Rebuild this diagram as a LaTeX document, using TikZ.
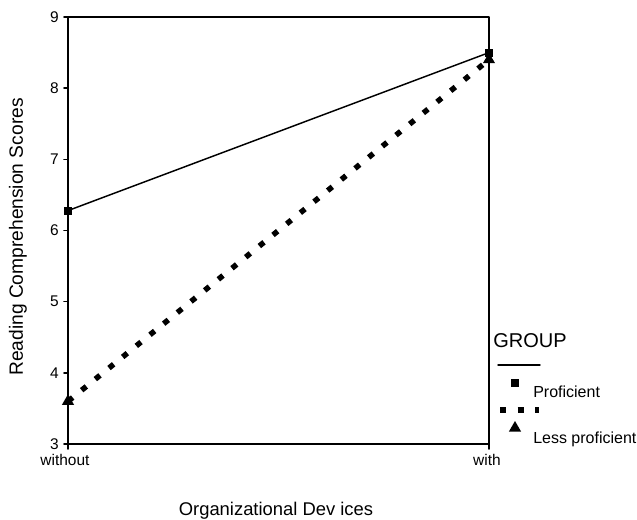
\documentclass[tikz,border=0pt]{standalone}
\usepackage{fontspec}
\setmainfont{Liberation Sans}
\usetikzlibrary{shapes.geometric}
\usetikzlibrary{positioning}

\tikzset{
  axisline/.style={line width=1.2pt},
  profline/.style={line width=1.1pt},
  lessline/.style={line width=4.1pt,line cap=butt,dash pattern=on 4.5pt off 8.7pt},
  sqmark/.style={rectangle,fill=black,minimum size=6pt,inner sep=0},
  trimark/.style={regular polygon,regular polygon sides=3,fill=black,minimum size=10.5pt,inner sep=0},
  ticklab/.style={inner sep=0,font=\fontsize{11.6}{13}\selectfont},
  axislab/.style={inner sep=0,font=\fontsize{13.8}{16}\selectfont},
  legtext/.style={inner sep=0,anchor=west,font=\fontsize{12}{14}\selectfont}
}

\begin{document}
\begin{tikzpicture}[line cap=round,line join=round,x=0.75pt,y=0.75pt]
\useasboundingbox (0,0) rectangle (637,519);
% frame
\coordinate (bl) at (68,75);
\coordinate (tl) at (68,502);
\coordinate (tr) at (489,502);
\coordinate (br) at (489,75);
\draw[axisline] (bl) -- (tl) -- (tr) -- (br) -- cycle;
% y ticks
\foreach \s in {3,...,9}{
  \draw[axisline] (64,{75+(\s-3)*71.17}) -- (68,{75+(\s-3)*71.17});
  \node[ticklab,anchor=east] (t\s) at (59,{75+(\s-3)*71.17}) {\s};
}
% x ticks
\draw[axisline] (bl) -- ++(0,-5);
\draw[axisline] (br) -- ++(0,-5);
\node[ticklab] (xwo) at (65,59) {without};
\node[ticklab] (xw) at (487,59) {with};
% axis labels
\node[axislab,rotate=90,font=\fontsize{14.4}{16}\selectfont] (ylab) at (18,282) {Reading Comprehension Scores};
\node[axislab] (xlab) at (276,8) {Organizational Dev ices};
% data
\coordinate (l1) at (68,117.7);
\coordinate (l2) at (489,459.3);
\coordinate (p1) at (68,308.4);
\coordinate (p2) at (489,466.4);
\draw[lessline] (l1) -- (l2);
\draw[profline] (p1) -- (p2);
\node[trimark] (l1m) at (l1) {};
\node[trimark] (l2m) at (l2) {};
\node[sqmark] (p1m) at (p1) {};
\node[sqmark] (p2m) at (p2) {};
% legend
\node[inner sep=0,anchor=west,font=\fontsize{15}{17}\selectfont] (grp) at (493,178) {GROUP};
\coordinate (ga) at (498,154);
\coordinate (gb) at (540,154);
\draw[profline] (ga) -- (gb);
\node[sqmark] (gp) at (515,136) {};
\node[legtext] (gptxt) at (533,127) {Proficient};
\coordinate (gc) at (500,109);
\coordinate (gd) at (539,109);
\draw[lessline] (gc) -- (gd);
\node[trimark] (gl) at (515,91) {};
\node[legtext] (gltxt) at (533,80) {Less proficient};
\end{tikzpicture}
\end{document}
